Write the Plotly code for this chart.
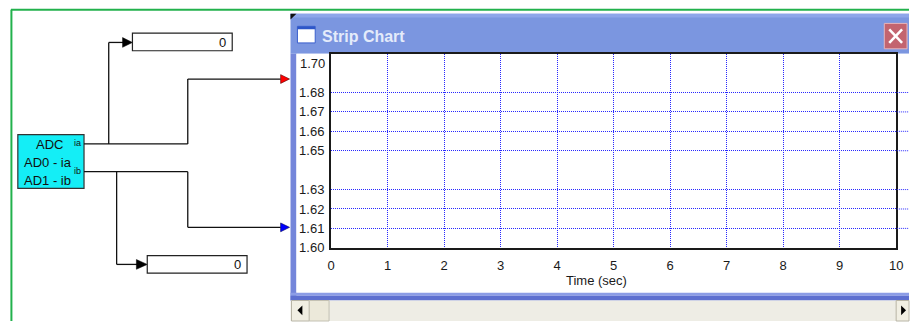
import plotly.graph_objects as go

W, H = 916, 329

# ---------------- data ----------------
x_tick_vals = [0, 1, 2, 3, 4, 5, 6, 7, 8, 9, 10]
x_tick_text = ["0", "1", "2", "3", "4", "5", "6", "7", "8", "9", "10"]
y_tick_vals = [1.60, 1.61, 1.62, 1.63, 1.65, 1.66, 1.67, 1.68, 1.70]
y_tick_text = ["1.60", "1.61", "1.62", "1.63", "1.65", "1.66", "1.67", "1.68", ""]
y_top_label = "1.70"
y_grid_vals = [1.61, 1.62, 1.63, 1.65, 1.66, 1.67, 1.68]
x_range = [0, 10]
y_range = [1.60, 1.70]
series_names = ["ia", "ib"]
series_colors = ["#FF0000", "#0000FF"]
display_values = ["0", "0"]
block_title = "ADC"
block_lines = ["AD0 - ia", "AD1 - ib"]
x_title = "Time (sec)"
window_title = "Strip Chart"

FONT = "Liberation Sans, Arial, sans-serif"
GRID = "#2828FF"


def px(x):
    return x / W


def py(y):
    return 1 - y / H


shapes = []
annotations = []


def rect(x0, y0, x1, y1, fill, line=None, lw=0, layer="below"):
    shapes.append(dict(type="rect", xref="paper", yref="paper",
                       x0=px(x0), x1=px(x1), y0=py(y1), y1=py(y0),
                       fillcolor=fill, line=dict(color=line or fill, width=lw),
                       layer=layer))


def seg(pts, color="#111111", w=1.3, layer="below"):
    for (a, b), (c, d) in zip(pts[:-1], pts[1:]):
        shapes.append(dict(type="line", xref="paper", yref="paper",
                           x0=px(a), y0=py(b), x1=px(c), y1=py(d),
                           line=dict(color=color, width=w), layer=layer))


def poly(pts, fill, line="#000000", lw=1, layer="below"):
    path = "M " + " L ".join(f"{px(a):.6f},{py(b):.6f}" for a, b in pts) + " Z"
    shapes.append(dict(type="path", xref="paper", yref="paper", path=path,
                       fillcolor=fill, line=dict(color=line, width=lw), layer=layer))


def text(x, y, s, size=13, color="#111111", xanchor="center", bold=False, family=FONT):
    if bold:
        s = f"<b>{s}</b>"
    annotations.append(dict(x=px(x), y=py(y), xref="paper", yref="paper", text=s,
                            showarrow=False, xanchor=xanchor, yanchor="middle",
                            font=dict(size=size, color=color, family=family)))


# ---------------- green frame ----------------
seg([(7, 10), (916, 10)], color="#22B14C", w=2)
seg([(7.5, 10), (7.5, 329)], color="#22B14C", w=2)

# ---------------- strip chart window ----------------
rect(290, 14, 916, 55, "#7B96E0")            # title bar
rect(290, 14, 916, 18, "#8EA6EA")            # top highlight
rect(290, 55, 296, 308, "#7486DA")           # left border
rect(296, 55, 916, 300, "#FFFFFF")           # client area
rect(290, 300, 916, 303, "#8C9DE6")          # bottom border (light)
rect(290, 303, 916, 308, "#5E70D0")          # bottom border (dark)
poly([(290, 14), (296, 14), (290, 20)], "#111111", lw=0)

# title icon
rect(297, 27, 315, 44, "#FFFFFF", line="#3A5FCD", lw=1)
rect(297, 27, 315, 30, "#2E56C8")
text(320, 37.5, window_title, size=16, color="#E4EBFA", xanchor="left", bold=True)

# close button
rect(891, 24, 914, 50, "#C3646F", line="#E6B4BA", lw=1)
seg([(896, 30), (909, 44)], color="#FFFFFF", w=2.5)
seg([(909, 30), (896, 44)], color="#FFFFFF", w=2.5)

# scroll bar
rect(290, 308, 916, 329, "#EEEDE5")
rect(291, 308, 309, 329, "#F1EFE3", line="#B8B5A6", lw=1)
rect(309, 308, 329, 329, "#ECE9DA", line="#C4C1B3", lw=1)
poly([(302, 313), (302, 323), (297, 318)], "#000000", lw=0)
rect(903, 308, 916, 329, "#F1EFE3", line="#B8B5A6", lw=1)
poly([(908, 313), (908, 323), (913, 318)], "#000000", lw=0)

# ---------------- block diagram ----------------
# ADC block
rect(14, 138, 81, 193, "#14EEF6", line="#333333", lw=1.2)
text(46, 148, block_title, size=13)
text(44.5, 166.5, block_lines[0], size=13)
text(44.5, 185.5, block_lines[1], size=13)
text(74, 147, series_names[0], size=9)
text(74, 175.5, series_names[1], size=9)

# ia wiring
seg([(81, 147.5), (186, 147.5), (186, 81), (280, 81)])
seg([(106, 147.5), (106, 43.5), (121, 43.5)])
poly([(120, 38.5), (130, 43.5), (120, 48.5)], "#000000", lw=0.5)
poly([(280, 76.5), (289, 81), (280, 85.5)], series_colors[0], line="#550000", lw=0.6)

# ib wiring
seg([(81, 176), (186, 176), (186, 233), (280, 233)])
seg([(114, 176), (114, 271), (135, 271)])
poly([(134, 266), (145, 271), (134, 276)], "#000000", lw=0.5)
poly([(280, 228.5), (289, 233), (280, 237.5)], series_colors[1], line="#000055", lw=0.6)

# display boxes
rect(130, 34, 231, 52, "#FFFFFF", line="#222222", lw=1.2)
text(227, 43.5, display_values[0], size=13, xanchor="right")
rect(145, 262, 246, 280, "#FFFFFF", line="#222222", lw=1.2)
text(242, 271, display_values[1], size=13, xanchor="right")

# ---------------- chart ----------------
PL, PR, PT, PB = 331, 903, 55, 254

# gridline stubs extending past the right border (as in the reference)
for v in y_grid_vals:
    shapes.append(dict(type="line", xref="paper", yref="y", x0=px(PR + 1), x1=1.0,
                       y0=v, y1=v, line=dict(color=GRID, width=1, dash="1px,1px"),
                       layer="above"))

# top y label sits inside the plot top
annotations.append(dict(x=px(327), y=y_range[1], xref="paper", yref="y", yshift=-10,
                        text=y_top_label, showarrow=False, xanchor="right", yanchor="middle",
                        font=dict(size=13, color="#1a1a1a", family=FONT)))
text(600, 288, x_title, size=13, color="#1a1a1a")

fig = go.Figure()
for name, col in zip(series_names, series_colors):
    fig.add_trace(go.Scatter(x=[], y=[], mode="lines", name=name,
                             line=dict(color=col), showlegend=False))

fig.update_layout(
    width=W, height=H, autosize=False,
    margin=dict(l=0, r=0, t=0, b=0, pad=0),
    paper_bgcolor="#FFFFFF", plot_bgcolor="rgba(0,0,0,0)",
    showlegend=False,
    shapes=shapes, annotations=annotations,
    xaxis=dict(domain=[px(PL), px(PR)], range=x_range, tickmode="array",
               tickvals=x_tick_vals, ticktext=x_tick_text,
               showgrid=True, gridcolor=GRID, griddash="1px,1px", gridwidth=1,
               zeroline=False, showline=True, linecolor="#1a1a1a", linewidth=2, mirror=True,
               ticks="outside", ticklen=5, tickcolor="rgba(0,0,0,0)",
               tickfont=dict(size=13, color="#1a1a1a", family=FONT), fixedrange=True),
    yaxis=dict(domain=[py(PB), py(PT)], range=y_range, tickmode="array",
               tickvals=y_tick_vals, ticktext=y_tick_text,
               showgrid=True, gridcolor=GRID, griddash="1px,1px", gridwidth=1,
               zeroline=False, showline=True, linecolor="#1a1a1a", linewidth=2, mirror=True,
               ticks="outside", ticklen=2, tickcolor="rgba(0,0,0,0)",
               tickfont=dict(size=13, color="#1a1a1a", family=FONT), fixedrange=True),
)

fig.write_html("out.html", config={"displayModeBar": False},
               post_script="document.body.style.margin='0';document.body.style.overflow='hidden';")
